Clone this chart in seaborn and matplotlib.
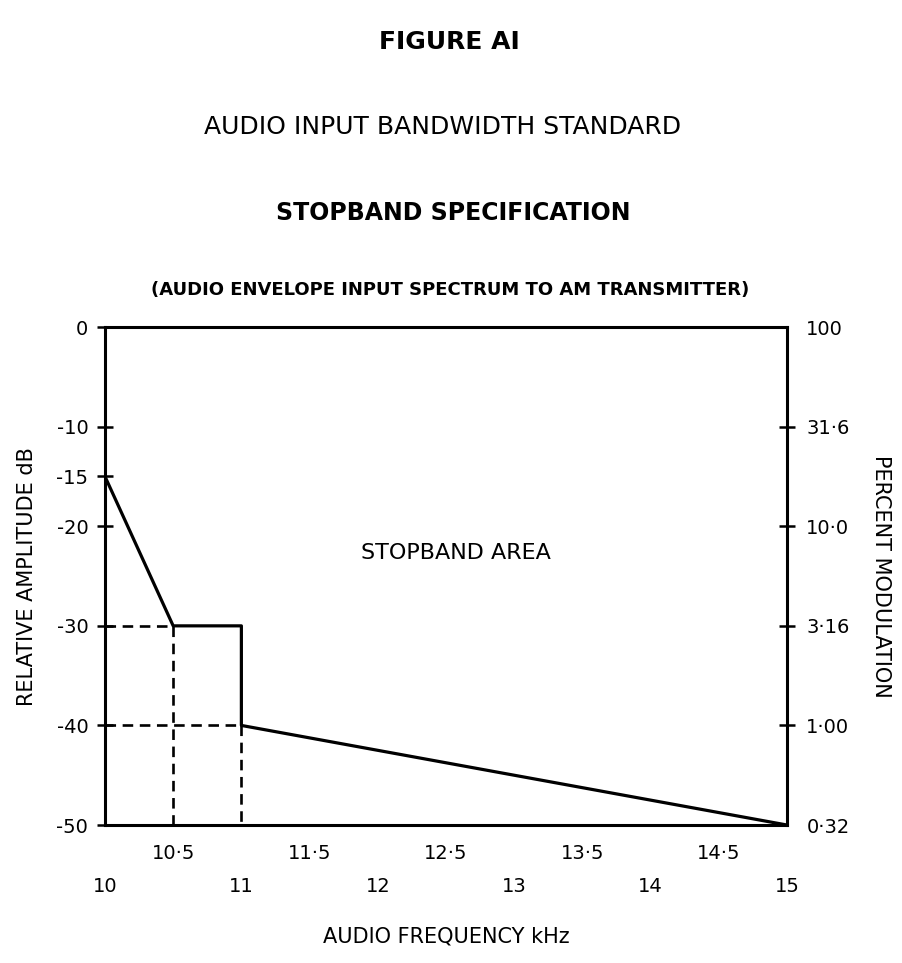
import matplotlib
matplotlib.use("Agg")
import matplotlib.pyplot as plt
import seaborn as sns
import pandas as pd

sns.set_theme(style="white")
plt.rcParams['font.family'] = ['DejaVu Sans']
plt.rcParams.update({"text.color": "black", "axes.labelcolor": "black",
                     "xtick.color": "black", "ytick.color": "black"})

# data
curve_freq = [10, 10.5, 11, 11, 15]
curve_db = [-15, -30, -30, -40, -50]
guide_h_db = [-30, -40]
guide_h_end = [10.5, 11]
guide_v_freq = [10.5, 11]
guide_v_top = [-30, -40]

x_ticks = [10, 10.5, 11, 11.5, 12, 12.5, 13, 13.5, 14, 14.5, 15]
x_labels = ["\n10", "10·5", "\n11", "11·5", "\n12", "12·5", "\n13", "13·5", "\n14", "14·5", "\n15"]
left_ticks = [0, -10, -15, -20, -30, -40, -50]
left_labels = ["0", "-10", "-15", "-20", "-30", "-40", "-50"]
right_ticks = [0, -10, -20, -30, -40, -50]
right_labels = ["100", "31·6", "10·0", "3·16", "1·00", "0·32"]

fig = plt.figure(figsize=(9.02, 9.63), dpi=100)
ax = fig.add_axes([0.1164, 0.1433, 0.756, 0.517])

df = pd.DataFrame({"freq": curve_freq, "db": curve_db})
sns.lineplot(data=df, x="freq", y="db", sort=False, estimator=None, errorbar=None,
             color="black", linewidth=2.3, ax=ax)

for y, xe in zip(guide_h_db, guide_h_end):
    ax.plot([10, xe], [y, y], color="black", linestyle=(0, (4, 2.5)), linewidth=1.9)
for x, yt in zip(guide_v_freq, guide_v_top):
    ax.plot([x, x], [yt, -50], color="black", linestyle=(0, (4, 2.5)), linewidth=1.9)

ax.set_xlim(10, 15)
ax.set_ylim(-50, 0)
for s in ax.spines.values():
    s.set_visible(True)
    s.set_color("black")
    s.set_linewidth(2.2)

ax.set_xticks(x_ticks)
ax.set_xticklabels(x_labels, fontsize=14, linespacing=1.9)
ax.set_yticks(left_ticks)
ax.set_yticklabels(left_labels, fontsize=14)
ax.tick_params(axis="both", direction="inout", length=12, width=1.8, color="black", pad=6)
ax.tick_params(axis="x", pad=8)
for i in (0, len(x_ticks) - 1):
    ax.xaxis.get_major_ticks()[i].tick1line.set_visible(False)
for i in (0, len(left_ticks) - 1):
    ax.yaxis.get_major_ticks()[i].tick1line.set_visible(False)
ax.set_xlabel("AUDIO FREQUENCY kHz", fontsize=15, labelpad=22)
ax.set_ylabel("RELATIVE AMPLITUDE dB", fontsize=15, labelpad=14)

ax2 = ax.twinx()
ax2.set_ylim(-50, 0)
ax2.set_yticks(right_ticks)
ax2.set_yticklabels(right_labels, fontsize=14)
ax2.tick_params(axis="y", direction="inout", length=12, width=1.8, color="black", pad=8)
for i in (0, len(right_ticks) - 1):
    ax2.yaxis.get_major_ticks()[i].tick2line.set_visible(False)
for s in ax2.spines.values():
    s.set_visible(False)
ax2.set_ylabel("PERCENT MODULATION", fontsize=15, rotation=-90, labelpad=30)
ax2.grid(False)
ax.grid(False)

ax.text(12.57, -22.7, "STOPBAND AREA", fontsize=16, ha="center", va="center")

fig.text(0.498, 1 - 42 / 963, "FIGURE AI", fontsize=18, fontweight="bold", ha="center", va="center")
fig.text(0.491, 1 - 127 / 963, "AUDIO INPUT BANDWIDTH STANDARD", fontsize=18, ha="center", va="center")
fig.text(0.502, 1 - 213 / 963, "STOPBAND SPECIFICATION", fontsize=17, fontweight="bold", ha="center", va="center")
fig.text(0.499, 1 - 290 / 963, "(AUDIO ENVELOPE INPUT SPECTRUM TO AM TRANSMITTER)", fontsize=13, fontweight="bold", ha="center", va="center")

fig.savefig("out.png", dpi=100)
